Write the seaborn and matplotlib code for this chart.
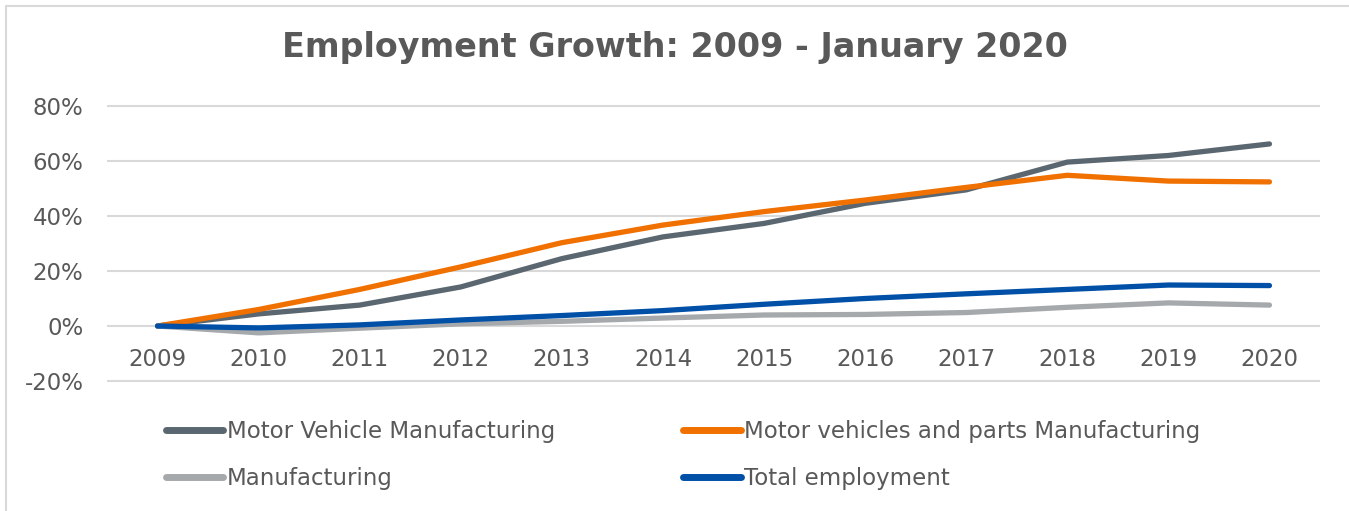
import pandas as pd
import matplotlib.pyplot as plt
import seaborn as sns
from matplotlib.lines import Line2D
from matplotlib.ticker import FuncFormatter

# values (percent growth since 2009)
years = [2009, 2010, 2011, 2012, 2013, 2014, 2015, 2016, 2017, 2018, 2019, 2020]
motor_vehicle = [0, 4.4, 7.6, 14.2, 24.5, 32.4, 37.3, 44.6, 49.5, 59.6, 62.0, 66.2]
motor_parts = [0, 6.0, 13.3, 21.5, 30.3, 36.7, 41.6, 45.8, 50.4, 54.8, 52.7, 52.4]
manufacturing = [0, -2.5, -0.8, 0.8, 1.7, 2.9, 4.0, 4.2, 4.9, 6.8, 8.4, 7.6]
total_employment = [0, -0.7, 0.4, 2.2, 3.8, 5.6, 7.9, 10.0, 11.7, 13.3, 14.9, 14.7]

series_names = [
    "Motor Vehicle Manufacturing",
    "Motor vehicles and parts Manufacturing",
    "Manufacturing",
    "Total employment",
]
series_colors = ["#5B6770", "#F07000", "#A5A9AB", "#0050A8"]
y_ticks = [-20, 0, 20, 40, 60, 80]

TEXT = "#595959"


def build_frame():
    rows = []
    for name, vals in zip(series_names, [motor_vehicle, motor_parts, manufacturing, total_employment]):
        for yr, v in zip(years, vals):
            rows.append({"Year": yr, "Growth": v, "Series": name})
    return pd.DataFrame(rows)


def main():
    sns.set_style("white")
    plt.rcParams["font.family"] = ["DejaVu Sans"]

    df = build_frame()

    W, H = 1349, 511
    fig = plt.figure(figsize=(W / 100, H / 100), dpi=100)

    ylo, yhi = -21, 81
    px_per = 275 / 100
    top_px = 106 - (yhi - 80) * px_per
    bot_px = 381 + (-20 - ylo) * px_per
    ax = fig.add_axes([107 / W, 1 - bot_px / H, (1320 - 107) / W, (bot_px - top_px) / H])

    sns.lineplot(
        data=df, x="Year", y="Growth", hue="Series", hue_order=series_names,
        palette=dict(zip(series_names, series_colors)), linewidth=3.8,
        solid_capstyle="round", ax=ax, legend=False,
    )

    ax.set_xlim(years[0] - 0.5, years[-1] + 0.5)
    ax.set_ylim(ylo, yhi)
    ax.set_yticks(y_ticks)
    ax.yaxis.set_major_formatter(FuncFormatter(lambda v, p: f"{v:.0f}%"))
    ax.set_xticks(years)
    ax.set_xticklabels([str(y) for y in years])
    ax.set_xlabel("")
    ax.set_ylabel("")

    ax.grid(axis="y", color="#D9D9D9", linewidth=1.5)
    ax.set_axisbelow(True)
    for s in ["top", "right", "left"]:
        ax.spines[s].set_visible(False)
    ax.spines["bottom"].set_position(("data", 0))
    ax.spines["bottom"].set_visible(False)
    ax.tick_params(axis="x", length=0, pad=15.5, labelsize=16.5, labelcolor=TEXT)
    ax.tick_params(axis="y", length=0, pad=17, labelsize=16.5, labelcolor=TEXT)

    fig.text(0.5, 1 - 48 / H, "Employment Growth: 2009 - January 2020",
             ha="center", va="center", fontsize=24, fontweight="bold", color=TEXT)

    # legend: two columns, filled column-wise
    order = [0, 2, 1, 3]
    handles = [Line2D([], [], color=series_colors[i], linewidth=5, solid_capstyle="round") for i in order]
    labels = [series_names[i] for i in order]
    fig.legend(handles, labels, ncol=2, frameon=False, loc="upper left",
               bbox_to_anchor=(166 / W, 1 - 420 / H), fontsize=16.5, labelcolor=TEXT,
               handlelength=2.5, handletextpad=0.15, columnspacing=5.6,
               labelspacing=1.05, borderpad=0, borderaxespad=0)

    # light frame on left and top
    fig.add_artist(Line2D([6 / W, 6 / W], [0, 1 - 6 / H], color="#D9D9D9", linewidth=1.5,
                          transform=fig.transFigure))
    fig.add_artist(Line2D([6 / W, 1], [1 - 6 / H, 1 - 6 / H], color="#D9D9D9", linewidth=1.5,
                          transform=fig.transFigure))

    fig.savefig("out.png", dpi=100)
    plt.close(fig)


if __name__ == "__main__":
    main()
